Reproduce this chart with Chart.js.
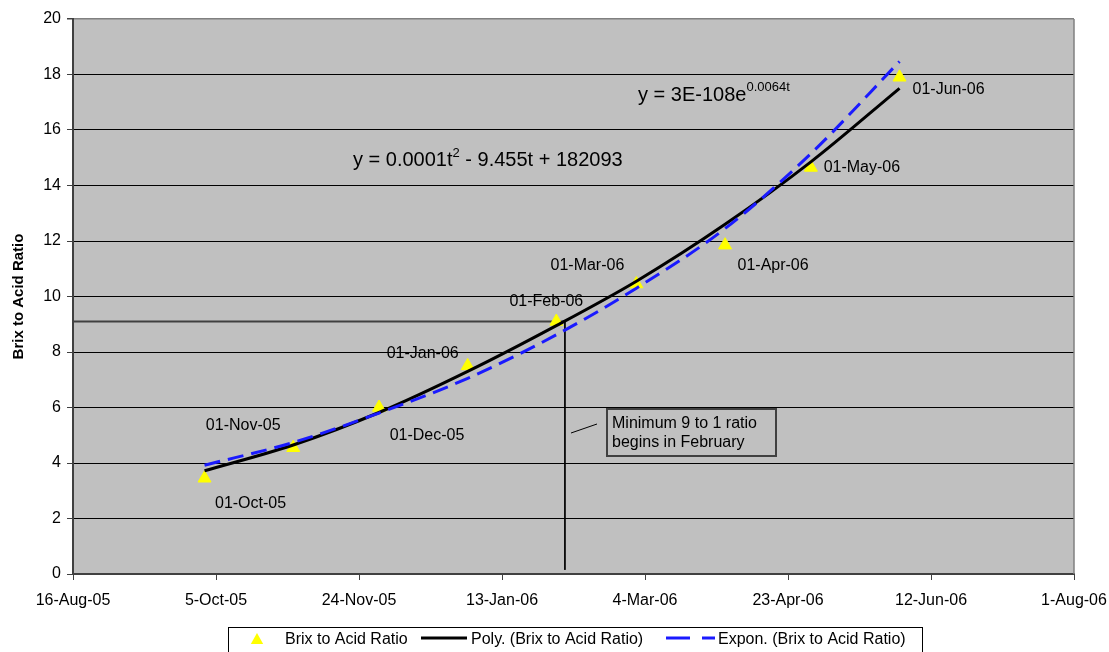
<!DOCTYPE html>
<html>
<head>
<meta charset="utf-8">
<script src="https://cdn.jsdelivr.net/npm/chart.js@4.4.1/dist/chart.umd.min.js"></script>
<style>
  html, body { margin: 0; padding: 0; background: #fff; }
</style>
</head>
<body>
<canvas id="chart" width="1109" height="652"></canvas>
<script>
// ---- data ----
const sampleDates = ['2005-10-01', '2005-11-01', '2005-12-01', '2006-01-01', '2006-02-01',
                     '2006-03-01', '2006-04-01', '2006-05-01', '2006-06-01'];
const brixAcid  = [3.45, 4.55, 6.0, 7.5, 9.1, 10.45, 11.85, 14.65, 17.9];
const polyTrend = [3.72, 4.65, 5.82, 7.3, 8.95, 10.55, 12.6, 14.85, 17.5];
const expTrend  = [3.92, 4.74, 5.8, 7.05, 8.62, 10.3, 12.45, 15.15, 18.47];

const xTickDates = ['2005-08-16', '2005-10-05', '2005-11-24', '2006-01-13',
                    '2006-03-04', '2006-04-23', '2006-06-12', '2006-08-01'];
const yTicks = [0, 2, 4, 6, 8, 10, 12, 14, 16, 18, 20];

const minimumRatio = 9.1;
const febMarkerDate = '2006-02-04';
const markerBottom = 0.15;

const months = ['Jan', 'Feb', 'Mar', 'Apr', 'May', 'Jun', 'Jul', 'Aug', 'Sep', 'Oct', 'Nov', 'Dec'];

function toDay(s) {
    const p = s.split('-').map(Number);
    return Date.UTC(p[0], p[1] - 1, p[2]) / 864e5;
}
function fmtDate(day, pad) {
    const d = new Date(day * 864e5);
    const dd = d.getUTCDate();
    return (pad && dd < 10 ? '0' + dd : dd) + '-' + months[d.getUTCMonth()] + '-' +
        String(d.getUTCFullYear()).slice(2);
}

const xs = sampleDates.map(toDay);
const xMin = toDay(xTickDates[0]);
const xMax = toDay(xTickDates[xTickDates.length - 1]);
const FONT = "'Liberation Sans', Arial, sans-serif";

Chart.defaults.font.family = FONT;
Chart.defaults.color = '#000';

// offsets of the point labels from their triangles
const labelOffsets = [[46, 25], [-50, -22], [48, 28], [-45, -12], [-10, -20],
                      [-49, -18], [48, 20], [51, 0], [49, 12]];

const decorPlugin = {
    id: 'decor',
    beforeDraw(chart) {
        const { ctx, chartArea: a } = chart;
        ctx.save();
        ctx.fillStyle = '#fff';
        ctx.fillRect(0, 0, chart.width, chart.height);
        ctx.fillStyle = '#C0C0C0';
        ctx.fillRect(a.left, a.top, a.right - a.left, a.bottom - a.top);
        ctx.restore();
    },
    afterDatasetsDraw(chart) {
        const { ctx, chartArea: a } = chart;
        ctx.save();

        // right border of the plot
        ctx.strokeStyle = '#808080';
        ctx.lineWidth = 1.5;
        ctx.beginPath();
        ctx.moveTo(a.right, a.top);
        ctx.lineTo(a.right, a.bottom);
        ctx.stroke();

        // point labels
        ctx.fillStyle = '#000';
        ctx.font = '16px ' + FONT;
        ctx.textAlign = 'center';
        ctx.textBaseline = 'middle';
        chart.getDatasetMeta(0).data.forEach((pt, i) => {
            const o = labelOffsets[i];
            ctx.fillText(fmtDate(xs[i], true), pt.x + o[0], pt.y + o[1]);
        });

        // trendline equations
        ctx.textAlign = 'left';
        ctx.textBaseline = 'alphabetic';
        let x = 353;
        ctx.font = '20px ' + FONT;
        ctx.fillText('y = 0.0001t', x, 166);
        x += ctx.measureText('y = 0.0001t').width;
        ctx.font = '13px ' + FONT;
        ctx.fillText('2', x, 157);
        x += ctx.measureText('2').width;
        ctx.font = '20px ' + FONT;
        ctx.fillText(' - 9.455t + 182093', x, 166);

        x = 638;
        ctx.fillText('y = 3E-108e', x, 101);
        x += ctx.measureText('y = 3E-108e').width;
        ctx.font = '13px ' + FONT;
        ctx.fillText('0.0064t', x, 91);

        // note box
        ctx.strokeStyle = '#404040';
        ctx.lineWidth = 2;
        ctx.strokeRect(607, 409, 169, 47);
        ctx.font = '16px ' + FONT;
        ctx.textBaseline = 'middle';
        ctx.fillText('Minimum 9 to 1 ratio', 612, 424);
        ctx.fillText('begins in February', 612, 443);
        ctx.strokeStyle = '#000';
        ctx.lineWidth = 1;
        ctx.beginPath();
        ctx.moveTo(571, 433);
        ctx.lineTo(597, 424);
        ctx.stroke();

        // legend
        ctx.strokeStyle = '#000';
        ctx.lineWidth = 1;
        ctx.strokeRect(228.5, 627.5, 694, 40);
        ctx.fillStyle = '#FFFF00';
        ctx.beginPath();
        ctx.moveTo(257, 633);
        ctx.lineTo(263.2, 644);
        ctx.lineTo(250.8, 644);
        ctx.closePath();
        ctx.fill();
        ctx.fillStyle = '#000';
        ctx.font = '16px ' + FONT;
        ctx.fillText('Brix to Acid Ratio', 285, 640);
        ctx.lineWidth = 3;
        ctx.beginPath();
        ctx.moveTo(421, 638);
        ctx.lineTo(467, 638);
        ctx.stroke();
        ctx.fillText('Poly. (Brix to Acid Ratio)', 471, 640);
        ctx.strokeStyle = '#1a1aff';
        ctx.beginPath();
        ctx.moveTo(666, 638);
        ctx.lineTo(690, 638);
        ctx.moveTo(702, 638);
        ctx.lineTo(715, 638);
        ctx.stroke();
        ctx.fillText('Expon. (Brix to Acid Ratio)', 718, 640);

        ctx.restore();
    }
};

new Chart(document.getElementById('chart'), {
    type: 'scatter',
    data: {
        datasets: [
            {
                label: 'Brix to Acid Ratio',
                data: xs.map((x, i) => ({ x, y: brixAcid[i] })),
                pointStyle: 'triangle',
                pointRadius: 7.5,
                pointHoverRadius: 7.5,
                backgroundColor: '#FFFF00',
                borderColor: '#FFFF00',
                borderWidth: 1,
                order: 3
            },
            {
                label: 'Poly. (Brix to Acid Ratio)',
                type: 'line',
                data: xs.map((x, i) => ({ x, y: polyTrend[i] })),
                borderColor: '#000',
                borderWidth: 3,
                pointRadius: 0,
                cubicInterpolationMode: 'monotone',
                order: 1
            },
            {
                label: 'Expon. (Brix to Acid Ratio)',
                type: 'line',
                data: xs.map((x, i) => ({ x, y: expTrend[i] })),
                borderColor: '#1a1aff',
                borderWidth: 3,
                borderDash: [16, 8],
                pointRadius: 0,
                cubicInterpolationMode: 'monotone',
                order: 0
            },
            {
                label: 'minimum',
                type: 'line',
                data: [{ x: xMin, y: minimumRatio }, { x: toDay(febMarkerDate), y: minimumRatio }],
                borderColor: '#404040',
                borderWidth: 2,
                pointRadius: 0,
                order: 4
            },
            {
                label: 'february',
                type: 'line',
                data: [{ x: toDay(febMarkerDate), y: minimumRatio }, { x: toDay(febMarkerDate), y: markerBottom }],
                borderColor: '#000',
                borderWidth: 1,
                pointRadius: 0,
                order: 4
            }
        ]
    },
    options: {
        responsive: false,
        animation: false,
        layout: { padding: { left: 0, top: 19, right: 35, bottom: 0 } },
        plugins: {
            legend: { display: false },
            tooltip: { enabled: false }
        },
        scales: {
            x: {
                type: 'linear',
                min: xMin,
                max: xMax,
                afterBuildTicks: s => { s.ticks = xTickDates.map(d => ({ value: toDay(d) })); },
                afterFit: s => { s.height = 78; s.paddingRight = 0; s.paddingLeft = 0; },
                ticks: {
                    autoSkip: false,
                    maxRotation: 0,
                    padding: 11,
                    font: { size: 16 },
                    color: '#000',
                    callback: v => fmtDate(v, false)
                },
                grid: { drawOnChartArea: false, drawTicks: true, tickLength: 6, color: '#404040' },
                border: { color: '#404040', width: 2 }
            },
            y: {
                min: 0,
                max: 20,
                afterBuildTicks: s => { s.ticks = yTicks.map(v => ({ value: v })); },
                afterFit: s => { s.width = 73; },
                ticks: { padding: 6, font: { size: 16 }, color: '#000' },
                grid: {
                    color: c => (c.tick && c.tick.value === 20 ? '#808080' : '#000'),
                    lineWidth: c => (c.tick && c.tick.value === 20 ? 1.5 : 1),
                    tickLength: 6,
                    tickColor: '#404040'
                },
                border: { color: '#404040', width: 2 },
                title: {
                    display: true,
                    text: 'Brix to Acid Ratio',
                    font: { size: 15, weight: 'bold' },
                    padding: { top: 10, bottom: 0 }
                }
            }
        }
    },
    plugins: [decorPlugin]
});
</script>
</body>
</html>
